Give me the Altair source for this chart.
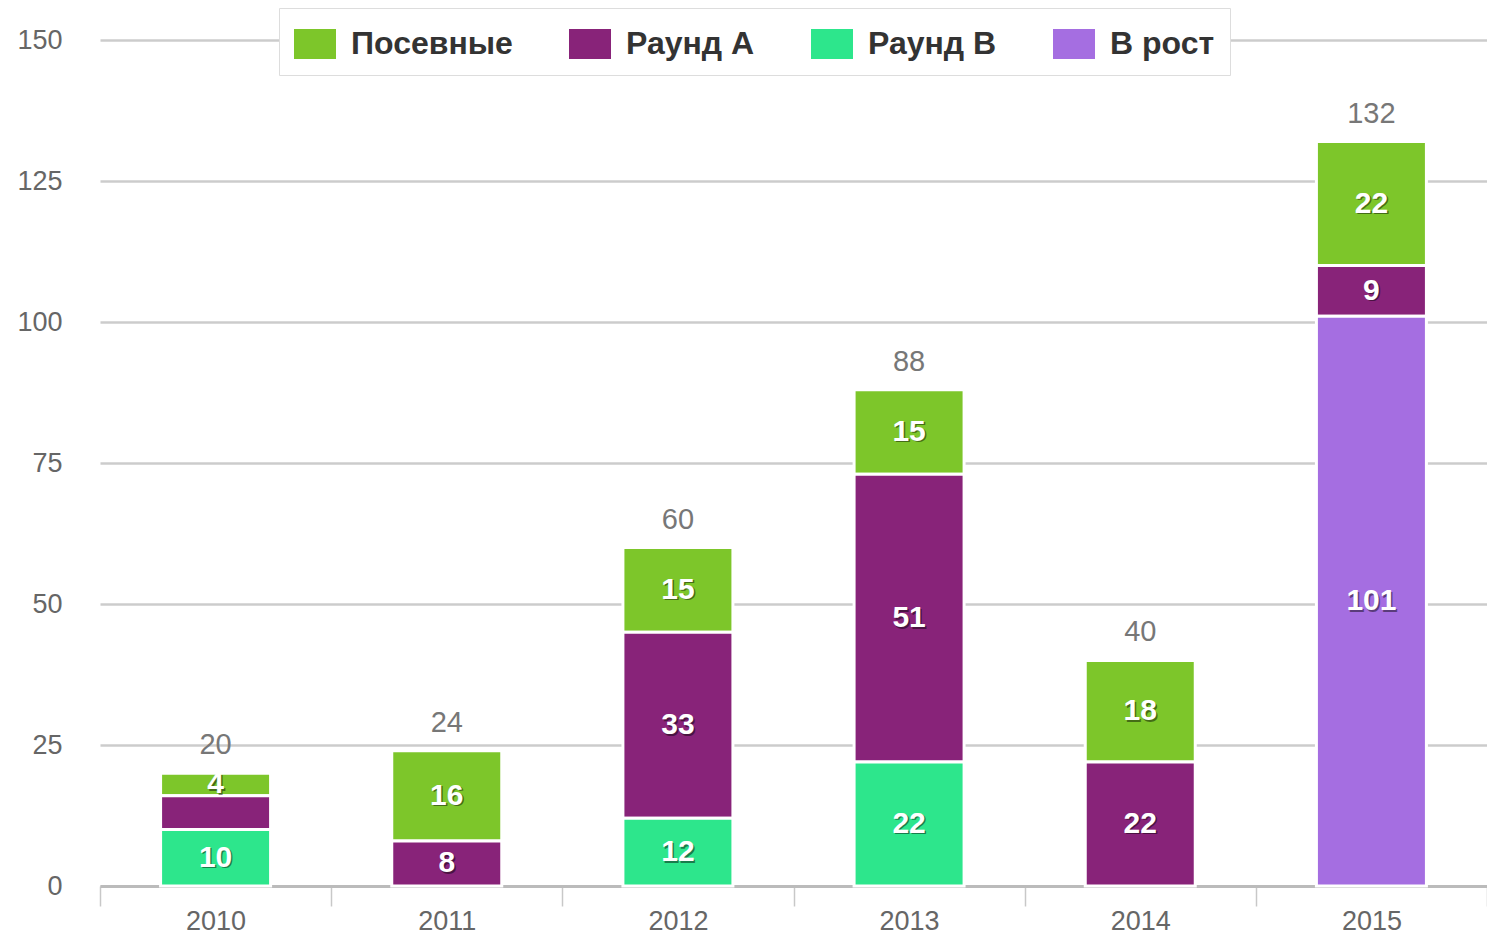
import altair as alt
import pandas as pd

years = ["2010", "2011", "2012", "2013", "2014", "2015"]
series = ["Посевные", "Раунд A", "Раунд B", "В рост"]
colors = ["#7dc62a", "#882379", "#2de68c", "#a56ee1"]
stack_rank = [3, 2, 1, 0]  # bottom first: В рост, Раунд B, Раунд A, Посевные

posevnye = [4, 16, 15, 15, 18, 22]
raund_a = [6, 8, 33, 51, 22, 9]
raund_b = [10, 0, 12, 22, 0, 0]
v_rost = [0, 0, 0, 0, 0, 101]
hidden_labels = [("2010", "Раунд A")]

values = [posevnye, raund_a, raund_b, v_rost]
rows = []
for s, vals, rk in zip(series, values, stack_rank):
    for y, v in zip(years, vals):
        if v > 0:
            rows.append({"year": y, "series": s, "value": v, "rank": rk,
                         "label": "" if (y, s) in hidden_labels else str(v)})
df = pd.DataFrame(rows)

FONT = "Liberation Sans"

x_enc = alt.X("year:N", title=None, sort=years,
              scale=alt.Scale(paddingInner=0, paddingOuter=0),
              axis=alt.Axis(labelAngle=0, domainColor="#bbbbbb", domainWidth=3,
                            tickColor="#c8c8c8", tickWidth=1.5, tickSize=20,
                            tickBand="extent", labelPadding=2,
                            labelFontSize=27, labelColor="#666666", labelFont=FONT,
                            grid=False))

bars = alt.Chart(df).mark_bar(size=110, stroke="white", strokeWidth=3).encode(
    x=x_enc,
    y=alt.Y("value:Q", title=None, stack="zero",
            scale=alt.Scale(domain=[0, 150], nice=False),
            axis=alt.Axis(values=[0, 25, 50, 75, 100, 125, 150], domain=False, ticks=False,
                          gridColor="#cccccc", gridWidth=2.5, labelPadding=38,
                          labelFontSize=27, labelColor="#666666", labelFont=FONT)),
    color=alt.Color("series:N", scale=alt.Scale(domain=series, range=colors),
                    legend=alt.Legend(title=None, orient="none", direction="horizontal",
                                      legendX=179, legendY=-32,
                                      symbolType="M-1,-0.714H1V0.714H-1Z",
                                      symbolSize=1764,
                                      symbolStrokeWidth=0, symbolOpacity=1,
                                      labelFontSize=32, labelFontWeight="bold",
                                      labelColor="#333333", labelFont=FONT,
                                      labelLimit=400,
                                      labelOffset=15, columnPadding=56,
                                      padding=15, strokeColor="#dddddd",
                                      fillColor="white")),
    order=alt.Order("rank:Q", sort="ascending"),
)

stacked = alt.Chart(df).transform_stack(
    stack="value", groupby=["year"], as_=["y0", "y1"],
    sort=[alt.SortField("rank", order="ascending")]
).transform_calculate(mid="(datum.y0 + datum.y1) / 2")

shadow = stacked.mark_text(font=FONT, fontSize=30, fontWeight="bold", color="black",
                           opacity=0.45, dx=1.5, dy=1.5, baseline="middle").encode(
    x=alt.X("year:N", sort=years), y=alt.Y("mid:Q"), text="label:N")
labels = stacked.mark_text(font=FONT, fontSize=30, fontWeight="bold", color="white",
                           baseline="middle").encode(
    x=alt.X("year:N", sort=years), y=alt.Y("mid:Q"), text="label:N")

totals = alt.Chart(df).transform_aggregate(
    total="sum(value)", groupby=["year"]
).mark_text(font=FONT, fontSize=29, color="#777777", baseline="bottom", dy=-13).encode(
    x=alt.X("year:N", sort=years), y=alt.Y("total:Q"), text="total:Q")

chart = alt.layer(bars, shadow, labels, totals).properties(
    width=1387, height=846,
    autosize=alt.AutoSizeParams(type="none"),
    padding={"left": 92, "top": 32, "right": 0, "bottom": 50},
).configure_view(stroke=None).configure_axis(labelFont=FONT)

chart.save("out.html", embed_options={"renderer": "svg", "actions": False})
